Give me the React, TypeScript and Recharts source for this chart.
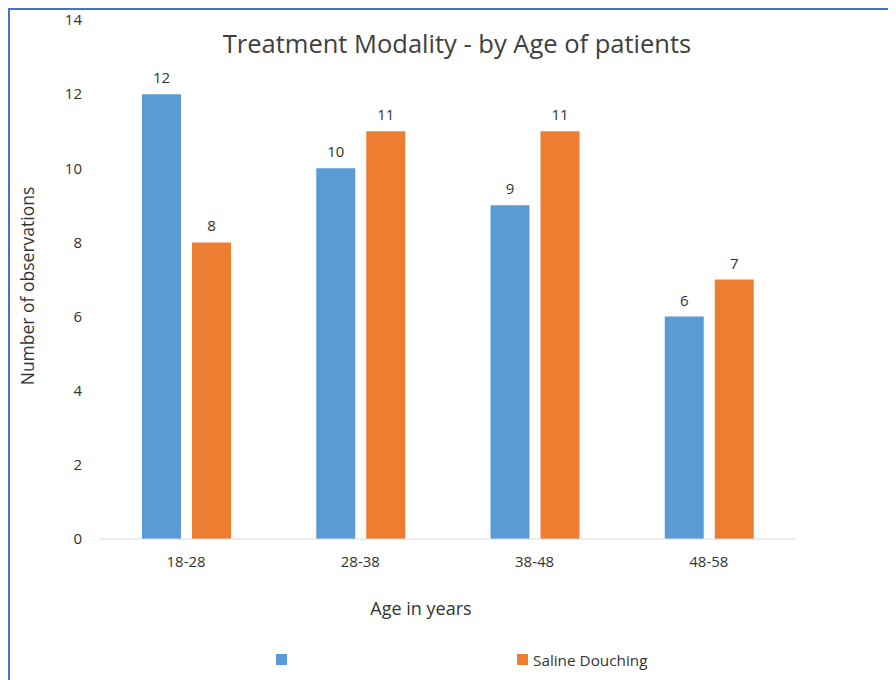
import React from "react";
import { BarChart, Bar, XAxis, YAxis, LabelList } from "recharts";

const ageGroups = ["18-28", "28-38", "38-48", "48-58"];
const firstSeries = [12, 10, 9, 6];
const salineDouching = [8, 11, 11, 7];
const yTicks = [0, 2, 4, 6, 8, 10, 12, 14];

const FONT = "'Open Sans', sans-serif";
const BLUE = "#5B9BD5";
const ORANGE = "#ED7D31";
const TEXT = "#333333";

const data = ageGroups.map((g, i) => ({
  age: g,
  first: firstSeries[i],
  saline: salineDouching[i],
}));

export default function App() {
  return (
    <div
      style={{
        position: "relative",
        width: 888,
        height: 672,
        borderTop: "2px solid #4472C4",
        borderLeft: "2px solid #4472C4",
        boxSizing: "border-box",
        fontFamily: FONT,
        background: "#fff",
      }}
    >
      <div
        style={{
          position: "absolute",
          left: 0,
          width: 894,
          top: 16,
          textAlign: "center",
          fontSize: 25.5,
          color: "#404040",
          lineHeight: "34px",
        }}
      >
        Treatment Modality - by Age of patients
      </div>
      <BarChart
        width={886}
        height={670}
        data={data}
        margin={{ top: 10, right: 100, left: 49, bottom: 111 }}
        barSize={39}
        barGap={11}
      >
        <XAxis
          dataKey="age"
          axisLine={{ stroke: "#D9D9D9" }}
          tickLine={false}
          tickMargin={11}
          height={30}
          tick={{ fontSize: 15, fill: TEXT, fontFamily: FONT }}
        />
        <YAxis
          domain={[0, 14]}
          ticks={yTicks}
          width={40}
          axisLine={false}
          tickLine={false}
          tickMargin={11}
          tick={{ fontSize: 15, fill: TEXT, fontFamily: FONT }}
        />
        <Bar dataKey="first" fill={BLUE} isAnimationActive={false}>
          <LabelList
            dataKey="first"
            position="top"
            offset={11}
            style={{ fontSize: 15, fill: TEXT, fontFamily: FONT }}
          />
        </Bar>
        <Bar dataKey="saline" fill={ORANGE} isAnimationActive={false}>
          <LabelList
            dataKey="saline"
            position="top"
            offset={11}
            style={{ fontSize: 15, fill: TEXT, fontFamily: FONT }}
          />
        </Bar>
      </BarChart>
      <div
        style={{
          position: "absolute",
          left: 17,
          top: 276,
          transform: "translate(-50%, -50%) rotate(-90deg)",
          fontSize: 17.5,
          color: TEXT,
          whiteSpace: "nowrap",
        }}
      >
        Number of observations
      </div>
      <div
        style={{
          position: "absolute",
          left: 0,
          width: 822,
          top: 586,
          textAlign: "center",
          fontSize: 18,
          color: TEXT,
        }}
      >
        Age in years
      </div>
      <div
        style={{
          position: "absolute",
          left: 266,
          top: 644,
          width: 11,
          height: 11,
          background: BLUE,
        }}
      />
      <div
        style={{
          position: "absolute",
          left: 507,
          top: 639,
          height: 21,
          display: "flex",
          alignItems: "center",
          fontSize: 15.3,
          color: TEXT,
        }}
      >
        <span
          style={{
            width: 11,
            height: 11,
            background: ORANGE,
            marginRight: 5,
            display: "inline-block",
          }}
        />
        Saline Douching
      </div>
    </div>
  );
}
